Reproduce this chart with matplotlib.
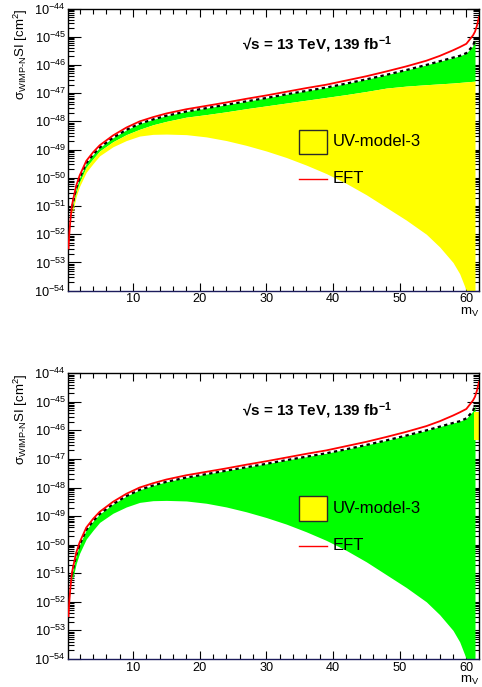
import numpy as np
import matplotlib
matplotlib.use("Agg")
import matplotlib.pyplot as plt
from matplotlib.patches import Rectangle
from matplotlib.ticker import LogLocator, MultipleLocator, NullFormatter

plt.rcParams['font.family'] = ['Liberation Sans', 'DejaVu Sans']
plt.rcParams['mathtext.fontset'] = 'custom'
plt.rcParams['mathtext.rm'] = 'Liberation Sans'
plt.rcParams['mathtext.it'] = 'Liberation Sans:italic'
plt.rcParams['mathtext.bf'] = 'Liberation Sans:bold'

# EFT curve (log10 of sigma)
m_eft = [0.33, 0.45, 0.6, 0.85, 1.0, 1.5, 2, 3, 4, 5, 7, 9, 11, 13, 15, 18, 21, 24, 27, 30,
         33, 36, 39, 42, 45, 48, 51, 54, 56, 58, 59, 60, 61, 61.3, 61.6, 61.9]
log_eft = [-52.5, -52.0, -51.55, -50.98, -50.8, -50.27, -49.92, -49.4, -49.1, -48.85, -48.5,
           -48.22, -48.0, -47.85, -47.72, -47.57, -47.45, -47.33, -47.2, -47.08, -46.95,
           -46.82, -46.7, -46.55, -46.4, -46.23, -46.05, -45.85, -45.68, -45.48, -45.37,
           -45.25, -44.95, -44.82, -44.6, -44.3]

# UV-model-3 bands
m_band = [0.85, 1.0, 1.5, 2, 3, 4, 5, 7, 9, 11, 13, 15, 18, 21, 24, 27, 30, 33, 36, 39,
          42, 45, 48, 51, 54, 56, 58, 59, 60, 61, 61.3]
log_upper = [-51.06, -50.88, -50.35, -50.0, -49.48, -49.18, -48.93, -48.58, -48.3, -48.08,
             -47.93, -47.8, -47.65, -47.53, -47.41, -47.29, -47.17, -47.04, -46.92, -46.8,
             -46.66, -46.51, -46.35, -46.18, -46.0, -45.87, -45.74, -45.68, -45.58, -45.32,
             -45.12]
log_mid = [-51.15, -51.0, -50.5, -50.15, -49.62, -49.33, -49.05, -48.72, -48.47, -48.28,
           -48.12, -48.0, -47.85, -47.76, -47.66, -47.55, -47.45, -47.35, -47.25, -47.15,
           -47.05, -46.94, -46.82, -46.75, -46.7, -46.67, -46.64, -46.62, -46.6, -46.58,
           -46.57]
log_lower = [-51.25, -51.15, -50.65, -50.3, -49.8, -49.5, -49.22, -48.9, -48.68, -48.52,
             -48.46, -48.45, -48.47, -48.55, -48.68, -48.85, -49.05, -49.28, -49.55, -49.85,
             -50.2, -50.6, -51.05, -51.5, -52.0, -52.45, -53.0, -53.4, -54.0, -55.0, -56.0]

# small yellow piece at the right edge of the lower panel
m_strip = [61.2, 61.9]
log_strip_lo = [-46.35, -46.35]
log_strip_hi = [-45.35, -45.35]

GREEN = '#00ff00'
YELLOW = '#ffff00'
RED = '#ff0000'


def style_axes(ax):
    ax.set_yscale('log')
    ax.set_xlim(0.33, 61.9)
    ax.set_ylim(1e-54, 1e-44)
    ax.xaxis.set_major_locator(MultipleLocator(10))
    ax.xaxis.set_minor_locator(MultipleLocator(2))
    ax.yaxis.set_major_locator(LogLocator(base=10, numticks=30))
    ax.yaxis.set_minor_locator(LogLocator(base=10, subs=np.arange(2, 10), numticks=300))
    ax.yaxis.set_minor_formatter(NullFormatter())
    ax.tick_params(which='both', direction='in', top=True, right=True,
                   labelsize=9.2, width=0.8, pad=2)
    ax.tick_params(axis='x', which='major', length=6)
    ax.tick_params(axis='x', which='minor', length=3.5)
    ax.tick_params(axis='y', which='major', length=9)
    ax.tick_params(axis='y', which='minor', length=4.5)
    for s in ax.spines.values():
        s.set_linewidth(1.0)
    ax.spines['bottom'].set_color('#1c1c5c')
    ax.set_ylabel("σ$_{\\text{WIMP-N}}$SI [cm$^{2}$]", fontsize=9.5, loc='top')
    ax.yaxis.set_label_coords(-0.093, 1.0)
    ax.set_xlabel("m$_{\\mathrm{V}}$", fontsize=9.5, loc='right')
    ax.xaxis.set_label_coords(1.0, -0.054)
    ax.text(0.4227, 0.87, "√s = 13 TeV, 139 fb$^{\\mathbf{-1}}$", transform=ax.transAxes,
            fontsize=11, fontweight='bold', va='center', ha='left')


def legend(ax):
    ax.add_patch(Rectangle((0.5605, 0.483), 0.07, 0.087, transform=ax.transAxes,
                           facecolor=YELLOW, edgecolor='#2a2a2a', lw=1.0, zorder=6))
    ax.text(0.644, 0.527, "UV-model-3", transform=ax.transAxes, fontsize=12,
            va='center', ha='left', zorder=6)
    ax.plot([0.5615, 0.6297], [0.397, 0.397], transform=ax.transAxes, color=RED,
            lw=1.0, zorder=6)
    ax.text(0.644, 0.397, "EFT", transform=ax.transAxes, fontsize=12,
            va='center', ha='left', zorder=6)


m_b = np.array(m_band)
up = 10.0 ** np.array(log_upper)
mid = 10.0 ** np.array(log_mid)
lo = 10.0 ** np.array(log_lower)
eft = 10.0 ** np.array(log_eft)

fig = plt.figure(figsize=(4.82, 6.87), dpi=100)
ax1 = fig.add_axes([0.1421, 0.5769, 0.8517, 0.4107])
ax2 = fig.add_axes([0.1421, 0.0408, 0.8517, 0.4159])

# top panel: green between upper and mid, yellow between mid and lower
ax1.fill_between(m_b, mid, up, color=GREEN, lw=0, zorder=2)
ax1.fill_between(m_b, lo, mid, color=YELLOW, lw=0, zorder=2)

# bottom panel: green spans the full range
ax2.fill_between(m_b, lo, up, color=GREEN, lw=0, zorder=2)
ax2.fill_between(m_strip, 10.0 ** np.array(log_strip_lo), 10.0 ** np.array(log_strip_hi),
                 color=YELLOW, lw=0, zorder=2)

for ax in (ax1, ax2):
    ax.plot(m_b, up, color='black', lw=1.6, linestyle=(0, (1.5, 1.5)), zorder=3)
    ax.plot(m_eft, eft, color=RED, lw=1.3, zorder=4)
    style_axes(ax)
    legend(ax)

fig.savefig('out.png', dpi=100)
